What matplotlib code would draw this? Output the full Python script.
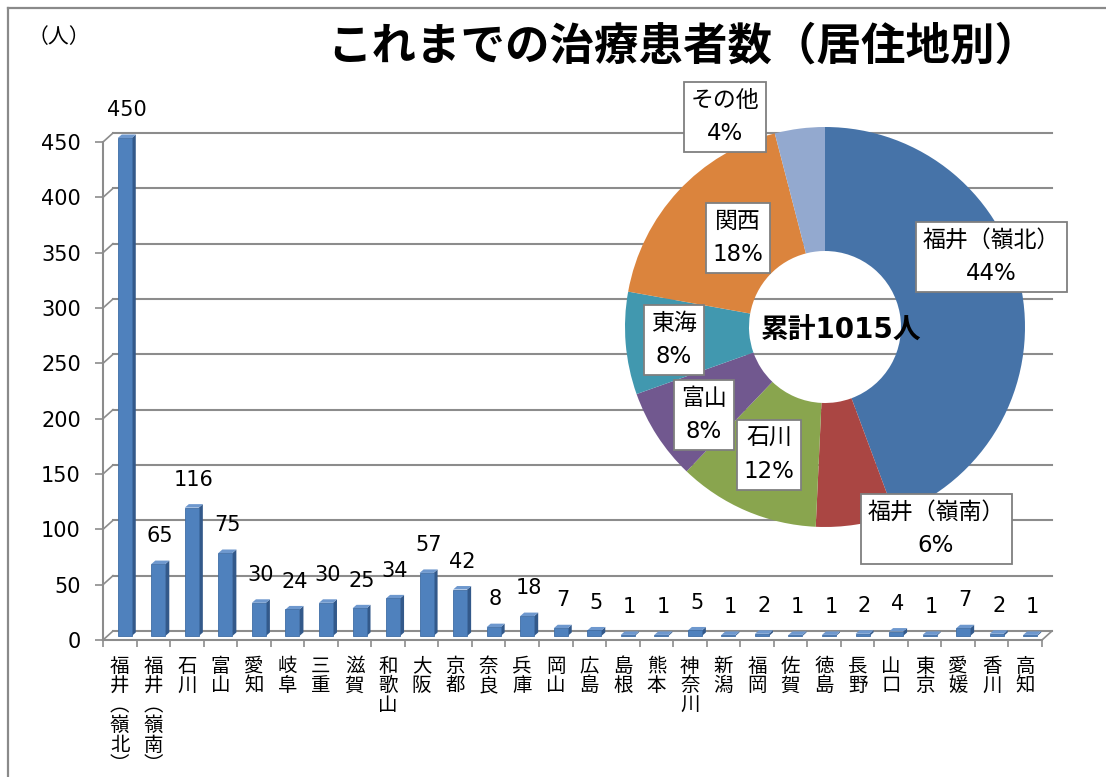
import matplotlib
matplotlib.use("Agg")
import matplotlib.pyplot as plt
from matplotlib.patches import Polygon, Rectangle

plt.rcParams['font.family'] = ['DejaVu Sans', 'Noto Sans CJK JP']

# ---- data ----
prefs = ['福井（嶺北）', '福井（嶺南）', '石川', '富山', '愛知', '岐阜', '三重', '滋賀',
         '和歌山', '大阪', '京都', '奈良', '兵庫', '岡山', '広島', '島根', '熊本',
         '神奈川', '新潟', '福岡', '佐賀', '徳島', '長野', '山口', '東京', '愛媛',
         '香川', '高知']
patients = [450, 65, 116, 75, 30, 24, 30, 25, 34, 57, 42, 8, 18, 7, 5, 1, 1,
            5, 1, 2, 1, 1, 2, 4, 1, 7, 2, 1]

y_ticks = [0, 50, 100, 150, 200, 250, 300, 350, 400, 450]

# donut groups (clockwise from the top)
region_names = ['福井（嶺北）', '福井（嶺南）', '石川', '富山', '東海', '関西', 'その他']
region_members = [['福井（嶺北）'], ['福井（嶺南）'], ['石川'], ['富山'],
                  ['愛知', '岐阜', '三重'],
                  ['滋賀', '京都', '大阪', '兵庫', '奈良', '和歌山']]
region_pct = ['44%', '6%', '12%', '8%', '8%', '18%', '4%']
region_colors = ['#4673A8', '#AA4643', '#89A54E', '#71588F', '#4198AF', '#DB843D', '#93A9CF']

lookup = dict(zip(prefs, patients))
region_vals = [sum(lookup[p] for p in m) for m in region_members]
region_vals.append(sum(patients) - sum(region_vals))
total = sum(patients)

# ---- figure ----
W, H = 1106, 777
fig = plt.figure(figsize=(W / 100, H / 100), dpi=100)

def px_rect(x0, y0, x1, y1):
    # pixel box (top-left origin) -> figure fraction
    return [x0 / W, 1 - y1 / H, (x1 - x0) / W, (y1 - y0) / H]

# outer frame (cropped on right/bottom)
fig.add_artist(plt.Line2D([8 / W, 8 / W], [0, 1 - 8 / H], color='#8a8a8a', lw=1.6))
fig.add_artist(plt.Line2D([8 / W, 1], [1 - 8 / H, 1 - 8 / H], color='#8a8a8a', lw=1.6))

ax = fig.add_axes(px_rect(103, 142, 1042, 640))
n = len(prefs)
ax.set_xlim(0, n)
ax.set_ylim(0, 450)

px_x = (1042 - 103) / n
px_y = (640 - 142) / 450.0
back_dx = 10 / px_x
back_dy = 9 / px_y
grid_c = '#8c8c8c'

# back wall gridlines + left diagonals
for v in y_ticks:
    ax.plot([back_dx, n + back_dx], [v + back_dy, v + back_dy], color=grid_c, lw=1.5,
            clip_on=False, zorder=1)
    ax.plot([0, back_dx], [v, v + back_dy], color=grid_c, lw=1.2, clip_on=False, zorder=1)
# floor right edge
ax.plot([n, n + back_dx], [0, back_dy], color=grid_c, lw=1.2, clip_on=False, zorder=1)

# 3D-looking columns
front_w = 14 / px_x
side_dx = 4 / px_x
side_dy = 3.5 / px_y
shift_x = 5 / px_x
shift_y = 4 / px_y
for i, v in enumerate(patients):
    xc = i + 0.5 + shift_x
    xl, xr = xc - front_w / 2, xc + front_w / 2
    y0, y1 = shift_y, v + shift_y
    ax.add_patch(Polygon([(xr, y0), (xr + side_dx, y0 + side_dy),
                          (xr + side_dx, y1 + side_dy), (xr, y1)],
                         closed=True, fc='#33598A', ec='none', clip_on=False, zorder=3))
    ax.add_patch(Polygon([(xl, y1), (xr, y1), (xr + side_dx, y1 + side_dy),
                          (xl + side_dx, y1 + side_dy)],
                         closed=True, fc='#6E98CE', ec='none', clip_on=False, zorder=3))
    ax.add_patch(Rectangle((xl, y0), front_w, v, fc='#4F81BD', ec='#3F6DA5', lw=0.6,
                           clip_on=False, zorder=4))
    ax.annotate(str(v), (xc + side_dx / 2, y1), xytext=(0, 20), textcoords='offset points',
                ha='center', va='center', fontsize=15, zorder=6, annotation_clip=False)

# axes styling
for s in ['top', 'right']:
    ax.spines[s].set_visible(False)
for s in ['left', 'bottom']:
    ax.spines[s].set_color(grid_c)
    ax.spines[s].set_linewidth(1.5)
ax.set_yticks(y_ticks)
ax.set_yticklabels([str(t) for t in y_ticks], fontsize=15)
ax.tick_params(axis='y', direction='out', length=6, width=1.2, color=grid_c, pad=10)
ax.set_xticks(range(n + 1))
ax.set_xticklabels([])
ax.tick_params(axis='x', which='major', direction='out', length=5, width=1.2, color=grid_c)
ax.set_xticks([i + 0.5 for i in range(n)], minor=True)
vert = ['\n'.join(p.replace('（', '︵').replace('）', '︶')) for p in prefs]
ax.set_xticklabels(vert, minor=True, fontsize=14, linespacing=1.05, va='top')
ax.tick_params(axis='x', which='minor', length=0, pad=12)
ax.patch.set_visible(False)

# titles
fig.text(683 / W, 1 - 47 / H, 'これまでの治療患者数（居住地別）', fontsize=32, fontweight='bold',
         ha='center', va='center')
fig.text(59 / W, 1 - 37 / H, '（人）', fontsize=15, ha='center', va='center')

# donut
pax = fig.add_axes(px_rect(625, 127, 1025, 527))
pax.pie(region_vals, colors=region_colors, startangle=90, counterclock=False, radius=1,
        wedgeprops=dict(width=0.62, edgecolor='none'))
pax.set_xlim(-1, 1)
pax.set_ylim(-1, 1)
pax.set_aspect('equal')
pax.axis('off')
pax.patch.set_visible(False)

label_pos = [(0.83, 0.35), (0.555, -1.01), (-0.28, -0.64), (-0.605, -0.44),
             (-0.755, -0.065), (-0.435, 0.445), (-0.5, 1.05)]
for name, pct, (lx, ly) in zip(region_names, region_pct, label_pos):
    pax.text(lx, ly, f'{name}\n{pct}', ha='center', va='center', multialignment='center',
             fontsize=16.5, linespacing=1.6, clip_on=False, zorder=10,
             bbox=dict(boxstyle='square,pad=0.3', fc='white', ec='#7f7f7f', lw=1.3))
pax.text(0.08, -0.02, f'累計{total}人', ha='center', va='center', fontsize=20,
         fontweight='bold', zorder=10)

fig.savefig('out.png', dpi=100)
